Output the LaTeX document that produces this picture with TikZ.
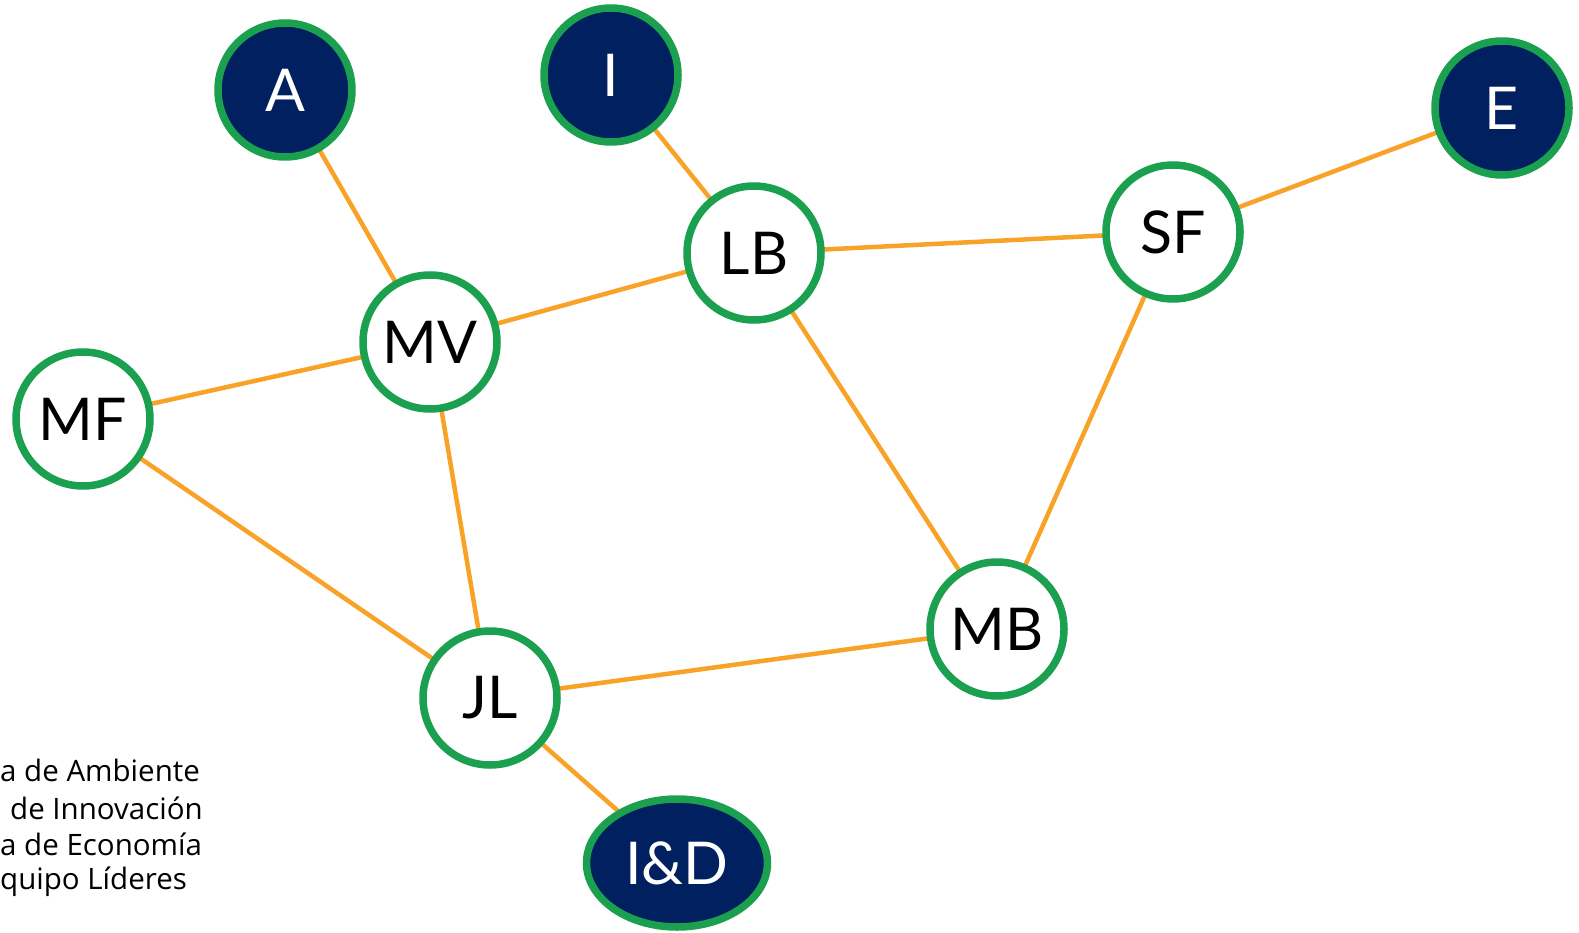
\documentclass[tikz,border=0pt]{standalone}
\usepackage{fontspec}
\setmainfont{Lato}
\newfontfamily\legendfont{Open Sans}
\usetikzlibrary{shapes.geometric}
\definecolor{ngreen}{RGB}{26,160,78}
\definecolor{nnavy}{RGB}{0,32,96}
\definecolor{eorange}{RGB}{248,162,40}
\tikzset{
  person/.style={circle,draw=ngreen,line width=7.5pt,fill=white,minimum size=134pt,inner sep=0pt,text=black,font=\fontsize{59}{59}\selectfont},
  area/.style={circle,draw=ngreen,line width=7.5pt,fill=nnavy,minimum size=134pt,inner sep=0pt,text=white,font=\fontsize{59}{59}\selectfont},
  areaell/.style={ellipse,draw=ngreen,line width=7.5pt,fill=nnavy,minimum width=181pt,minimum height=128pt,inner sep=0pt,text=white,font=\fontsize{59}{59}\selectfont},
  link/.style={draw=eorange,line width=4.5pt},
  legend/.style={anchor=west,inner sep=0pt,font=\legendfont\fontsize{29.5}{29.5}\selectfont,text=black}
}
\begin{document}
\begin{tikzpicture}[x=1pt,y=-1pt]
\useasboundingbox (0,0) rectangle (1579,933);
\coordinate (cA) at (285,90);
\coordinate (cI) at (611,75);
\coordinate (cE) at (1502,108);
\coordinate (cLB) at (754,253);
\coordinate (cSF) at (1173,232);
\coordinate (cMV) at (430,342);
\coordinate (cMF) at (83,419);
\coordinate (cJL) at (490,698);
\coordinate (cMB) at (997,629);
\coordinate (cID) at (677,863);
% edges (behind nodes)
\draw[link] (cA) -- (cMV);
\draw[link] (cI) -- (cLB);
\draw[link] (cE) -- (cSF);
\draw[link] (cMV) -- (cLB);
\draw[link] (cLB) -- (cSF);
\draw[link] (cMF) -- (cMV);
\draw[link] (cMF) -- (cJL);
\draw[link] (cMV) -- (cJL);
\draw[link] (cLB) -- (cMB);
\draw[link] (cSF) -- (cMB);
\draw[link] (cJL) -- (cMB);
\draw[link] (cJL) -- (cID);
% nodes
\node[area] (A) at (cA) {A};
\node[area] (I) at (cI) {I};
\node[area] (E) at (cE) {E};
\node[person] (LB) at (cLB) {LB};
\node[person] (SF) at (cSF) {SF};
\node[person] (MV) at (cMV) {MV};
\node[person] (MF) at (cMF) {MF};
\node[person] (JL) at (cJL) {JL};
\node[person] (MB) at (cMB) {MB};
\node[areaell] (ID) at (cID) {I\&D};
% legend (cut at left edge)
\node[legend] (l1) at (0,770) {a de Ambiente};
\node[legend] (l2) at (10,808) {de Innovación};
\node[legend] (l3) at (0,844) {a de Economía};
\node[legend] (l4) at (0,882) {quipo Líderes};
\end{tikzpicture}
\end{document}
